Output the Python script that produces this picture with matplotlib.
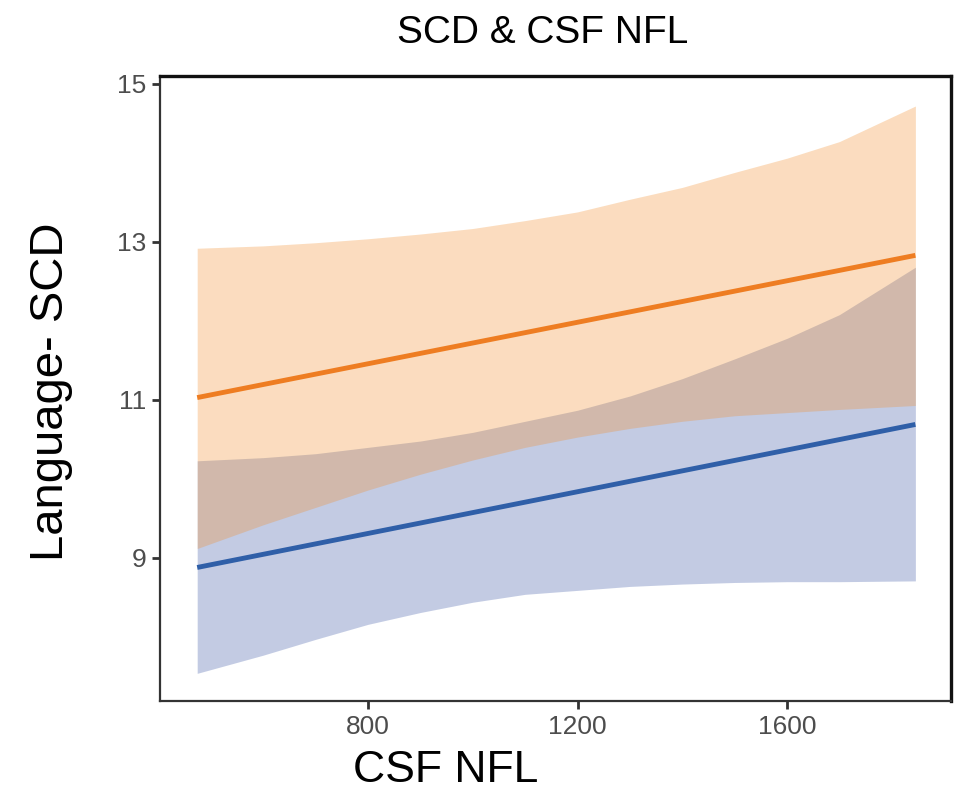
import matplotlib
matplotlib.use("Agg")
import matplotlib.pyplot as plt

# ---- data ----
x_band = [474, 600, 700, 800, 900, 1000, 1100, 1200, 1300, 1400, 1500, 1600, 1700, 1845]
orange_upper = [12.92, 12.95, 12.99, 13.04, 13.10, 13.17, 13.27, 13.38, 13.54, 13.69, 13.88, 14.06, 14.27, 14.72]
orange_lower = [9.12, 9.42, 9.64, 9.86, 10.06, 10.24, 10.40, 10.53, 10.64, 10.73, 10.80, 10.84, 10.88, 10.93]
blue_upper = [10.23, 10.27, 10.32, 10.40, 10.48, 10.59, 10.73, 10.87, 11.05, 11.27, 11.52, 11.78, 12.08, 12.68]
blue_lower = [7.54, 7.77, 7.97, 8.16, 8.31, 8.44, 8.54, 8.59, 8.64, 8.67, 8.69, 8.70, 8.70, 8.71]
x_line = [474, 1845]
orange_line = [11.03, 12.83]
blue_line = [8.88, 10.69]

x_ticks = [800, 1200, 1600]
y_ticks = [9, 11, 13, 15]

title = "SCD & CSF NFL"
x_label = "CSF NFL"
y_label = "Language- SCD"

fam = ['Liberation Sans', 'DejaVu Sans']

fig = plt.figure(figsize=(9.56, 7.94), dpi=100)
ax = fig.add_axes([160/956, 1-701/794, (951-160)/956, (701-76)/794])

blue_base = (58/255, 85/255, 165/255)
orange_base = (242/255, 142/255, 43/255)

ax.fill_between(x_band, blue_lower, blue_upper, color=blue_base, alpha=0.3, linewidth=0)
ax.fill_between(x_band, orange_lower, orange_upper, color=orange_base, alpha=0.3, linewidth=0)
ax.plot(x_line, orange_line, color='#EE7D22', linewidth=3.5, solid_capstyle='butt')
ax.plot(x_line, blue_line, color='#2F5FA8', linewidth=3.5, solid_capstyle='butt')

ax.set_xlim(403, 1913)
ax.set_ylim(7.19, 15.1)
ax.set_xticks(x_ticks)
ax.set_yticks(y_ticks)
ax.set_xticklabels([str(v) for v in x_ticks], family=fam, fontsize=19, color='#4D4D4D')
ax.set_yticklabels([str(v) for v in y_ticks], family=fam, fontsize=19, color='#4D4D4D')
ax.tick_params(axis='both', length=6, width=2, color='#333333', pad=4)

for side in ['left', 'bottom']:
    ax.spines[side].set_linewidth(1.6)
    ax.spines[side].set_color('#333333')
for side in ['top', 'right']:
    ax.spines[side].set_linewidth(2.4)
    ax.spines[side].set_color('#111111')

fig.text(543/956, 1-33/794, title, family=fam, fontsize=28, ha='center', va='center')
fig.text(446/956, 1-771/794, x_label, family=fam, fontsize=32, ha='center', va='center')
fig.text(51/956, 1-392/794, y_label, family=fam, fontsize=34, ha='center', va='center', rotation=90)

fig.savefig('out.png', dpi=100)
